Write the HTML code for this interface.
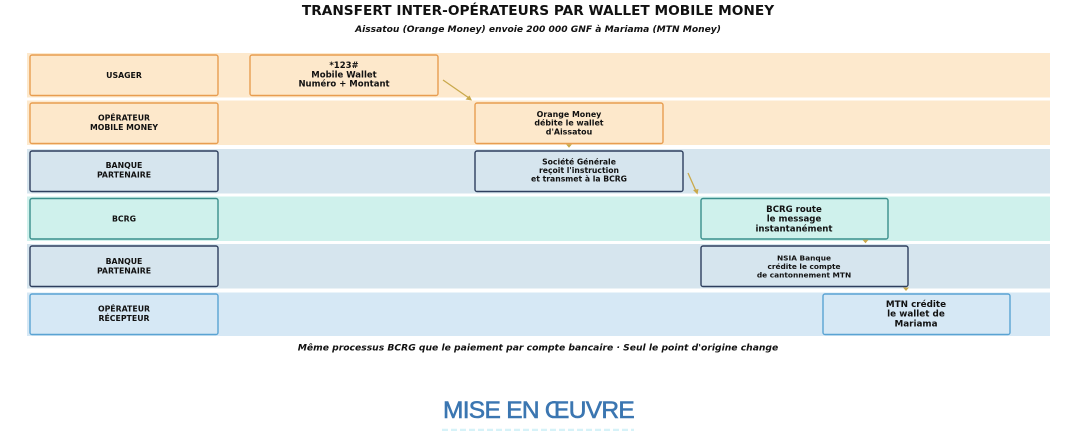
<!DOCTYPE html>
<html><head><meta charset="utf-8"><style>
html,body{margin:0;padding:0;background:#fff;}
body{width:1080px;height:431px;overflow:hidden;position:relative;}
svg{position:absolute;left:0;top:0;}
.t{font-family:"DejaVu Sans","Liberation Sans",sans-serif;font-weight:bold;fill:#111;text-anchor:middle;}
</style></head><body>
<svg width="1080" height="431" viewBox="0 0 1080 431" xmlns="http://www.w3.org/2000/svg">
  <!-- Title -->
  <text class="t" x="538" y="15" font-size="13.7" fill="#000">TRANSFERT INTER-OPÉRATEURS PAR WALLET MOBILE MONEY</text>
  <text class="t" x="538" y="32" font-size="9.15" font-style="italic">Aissatou (Orange Money) envoie 200 000 GNF à Mariama (MTN Money)</text>

  <!-- Lanes -->
  <rect x="27" y="53" width="1023" height="44.5" fill="#fde9cd"/>
  <rect x="27" y="100.5" width="1023" height="44.5" fill="#fde9cd"/>
  <rect x="27" y="149" width="1023" height="44.5" fill="#d6e5ee"/>
  <rect x="27" y="196.5" width="1023" height="44.5" fill="#cff1ec"/>
  <rect x="27" y="244" width="1023" height="44.5" fill="#d6e5ee"/>
  <rect x="27" y="292.5" width="1023" height="43.5" fill="#d6e8f5"/>

  <!-- Label boxes -->
  <g stroke-width="1.4">
    <rect x="30" y="55" width="188" height="40.5" rx="2" fill="#fde8cb" stroke="#e89d50"/>
    <rect x="30" y="103" width="188" height="40.5" rx="2" fill="#fde8cb" stroke="#e89d50"/>
    <rect x="30" y="151" width="188" height="40.5" rx="2" fill="#d6e5ee" stroke="#2e3f5e"/>
    <rect x="30" y="198.5" width="188" height="40.5" rx="2" fill="#cff1ec" stroke="#3a8f8c"/>
    <rect x="30" y="246" width="188" height="40.5" rx="2" fill="#d6e5ee" stroke="#2e3f5e"/>
    <rect x="30" y="294" width="188" height="40.5" rx="2" fill="#d6e8f5" stroke="#5aa3d3"/>
  </g>
  <g class="t" font-size="7.8">
    <text class="t" x="124" y="78">USAGER</text>
    <text class="t" x="124" y="120.5">OPÉRATEUR</text>
    <text class="t" x="124" y="130">MOBILE MONEY</text>
    <text class="t" x="124" y="168">BANQUE</text>
    <text class="t" x="124" y="177.3">PARTENAIRE</text>
    <text class="t" x="124" y="221.5">BCRG</text>
    <text class="t" x="124" y="264">BANQUE</text>
    <text class="t" x="124" y="273.3">PARTENAIRE</text>
    <text class="t" x="124" y="311.5">OPÉRATEUR</text>
    <text class="t" x="124" y="320.8">RÉCEPTEUR</text>
  </g>

  <!-- Step boxes -->
  <g stroke-width="1.4">
    <rect x="250" y="55" width="188" height="40.5" rx="2" fill="#fde8cb" stroke="#e89d50"/>
    <rect x="475" y="103" width="188" height="40.5" rx="2" fill="#fde8cb" stroke="#e89d50"/>
    <rect x="475" y="151" width="208" height="40.5" rx="2" fill="#d6e5ee" stroke="#2e3f5e"/>
    <rect x="701" y="198.5" width="187" height="40.5" rx="2" fill="#cff1ec" stroke="#3a8f8c"/>
    <rect x="701" y="246" width="207" height="40.5" rx="2" fill="#d6e5ee" stroke="#2e3f5e"/>
    <rect x="823" y="294" width="187" height="40.5" rx="2" fill="#d6e8f5" stroke="#5aa3d3"/>
  </g>

  <text class="t" x="344" y="68" font-size="8.5">*123#</text>
  <text class="t" x="344" y="77.3" font-size="8.5">Mobile Wallet</text>
  <text class="t" x="344" y="86.6" font-size="8.5">Numéro + Montant</text>

  <text class="t" x="569" y="117" font-size="7.9">Orange Money</text>
  <text class="t" x="569" y="125.5" font-size="7.9">débite le wallet</text>
  <text class="t" x="569" y="134.3" font-size="7.9">d'Aissatou</text>

  <text class="t" x="579" y="164.7" font-size="7.7">Société Générale</text>
  <text class="t" x="579" y="173" font-size="7.7">reçoit l'instruction</text>
  <text class="t" x="579" y="181.7" font-size="7.7">et transmet à la BCRG</text>

  <text class="t" x="794" y="212" font-size="8.6">BCRG route</text>
  <text class="t" x="794" y="221.7" font-size="8.6">le message</text>
  <text class="t" x="794" y="231.3" font-size="8.6">instantanément</text>

  <text class="t" x="804" y="260.3" font-size="7.4">NSIA Banque</text>
  <text class="t" x="804" y="268.9" font-size="7.4">crédite le compte</text>
  <text class="t" x="804" y="277.7" font-size="7.4">de cantonnement MTN</text>

  <text class="t" x="916" y="307.2" font-size="8.8">MTN crédite</text>
  <text class="t" x="916" y="316.6" font-size="8.8">le wallet de</text>
  <text class="t" x="916" y="326.3" font-size="8.8">Mariama</text>

  <!-- Arrows -->
  <g stroke="#c9a94c" stroke-width="1.3" fill="#c9a94c">
    <line x1="443" y1="80" x2="469" y2="98"/>
    <polygon points="472,100.5 465.5,99.5 469.5,95.5" stroke="none"/>
    <polygon points="566,144.3 572,144.3 569,147.8" stroke="none"/>
    <line x1="688" y1="173" x2="696" y2="191"/>
    <polygon points="697.5,194.5 693,190 698.5,189" stroke="none"/>
    <polygon points="862.5,239.8 868.5,239.8 865.5,243.3" stroke="none"/>
    <polygon points="903,287.5 909,287.5 906,291" stroke="none"/>
  </g>

  <!-- Footer -->
  <text class="t" x="538" y="350.5" font-size="9.2" font-style="italic">Même processus BCRG que le paiement par compte bancaire · Seul le point d'origine change</text>

  <text x="538.5" y="418" font-family="'Liberation Sans',sans-serif" font-size="24.5" letter-spacing="-0.7" fill="#3b76b1" stroke="#3b76b1" stroke-width="0.6" text-anchor="middle">MISE EN ŒUVRE</text>
  <line x1="442" y1="430" x2="634" y2="430" stroke="#d6f2f8" stroke-width="2.5" stroke-dasharray="6 3"/>
</svg>
</body></html>
